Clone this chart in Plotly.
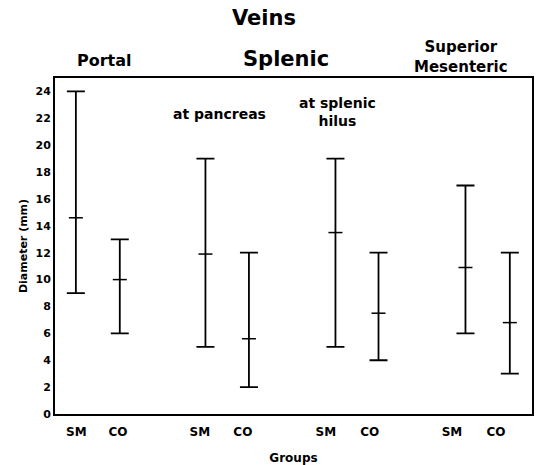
import plotly.graph_objects as go

groups = ["SM", "CO", "SM", "CO", "SM", "CO", "SM", "CO"]
means = [14.6, 10.0, 11.9, 5.6, 13.5, 7.5, 10.9, 6.8]
maxs = [24, 13, 19, 12, 19, 12, 17, 12]
mins = [9, 6, 5, 2, 5, 4, 6, 3]
y_ticks = list(range(0, 25, 2))

xpos = [0.48, 1.49, 3.46, 4.46, 6.45, 7.44, 9.44, 10.46]
label_pos = [0.49, 1.45, 3.33, 4.32, 6.23, 7.24, 9.13, 10.14]

FONT = "DejaVu Sans, Liberation Sans, sans-serif"

fig = go.Figure()
fig.add_trace(go.Scatter(
    x=xpos, y=means, mode="markers",
    marker=dict(symbol="line-ew", size=10, color="black",
                line=dict(width=1.5, color="black")),
    error_y=dict(type="data", symmetric=False,
                 array=[mx - m for mx, m in zip(maxs, means)],
                 arrayminus=[m - mn for m, mn in zip(means, mins)],
                 color="black", thickness=1.8, width=9),
    showlegend=False, hoverinfo="skip",
))

fig.update_layout(
    width=538, height=465,
    margin=dict(l=55, r=6, t=78, b=51, autoexpand=False),
    plot_bgcolor="white", paper_bgcolor="white",
    font=dict(family=FONT, color="black"),
    xaxis=dict(range=[0, 10.97], tickvals=label_pos, ticktext=groups,
               showline=True, linecolor="black", linewidth=2, mirror=True,
               showgrid=False, zeroline=False, ticks="", automargin=False,
               ticklabelstandoff=6,
               tickfont=dict(size=12, weight="bold"),
               title=dict(text="Groups", font=dict(size=12, weight="bold"), standoff=18)),
    yaxis=dict(range=[0, 25], tickvals=y_ticks,
               showline=True, linecolor="black", linewidth=2, mirror=True,
               showgrid=False, zeroline=False, ticks="", automargin=False,
               tickfont=dict(size=11, weight="bold"),
               title=dict(text="Diameter (mm)", font=dict(size=11, weight="bold"), standoff=6)),
)

ann = [
    dict(text="Veins", x=264, y=18, size=21),
    dict(text="Portal", x=104, y=61, size=16),
    dict(text="Splenic", x=286, y=59, size=21),
    dict(text="Superior<br>Mesenteric", x=461, y=57, size=15),
    dict(text="at pancreas", x=219, y=114, size=14),
    dict(text="at splenic<br>hilus", x=337, y=112, size=14),
]
W, H, L, R, T, B = 538, 465, 55, 6, 78, 51
for a in ann:
    fig.add_annotation(text=a["text"],
                       x=(a["x"] - L) / (W - L - R), y=(H - B - a["y"]) / (H - T - B),
                       xref="paper", yref="paper", xanchor="center", yanchor="middle",
                       showarrow=False, font=dict(size=a["size"], weight="bold", family=FONT),
                       align="center")

fig.write_html("out.html", config={"displayModeBar": False},
               post_script="document.body.style.margin='0';")
